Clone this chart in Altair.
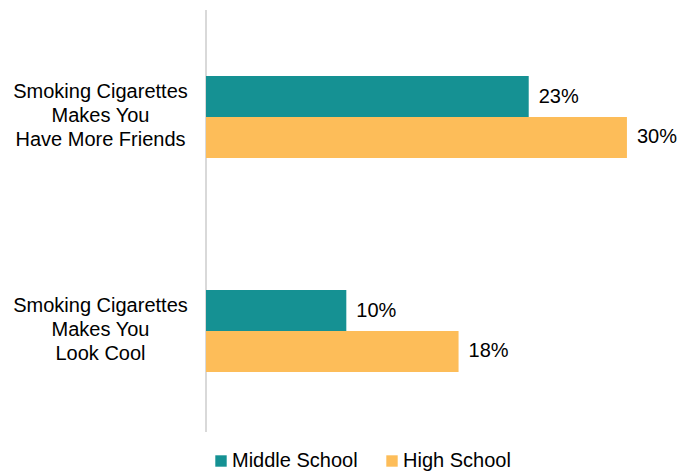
import altair as alt
import pandas as pd

categories = ["Smoking Cigarettes|Makes You|Have More Friends",
              "Smoking Cigarettes|Makes You|Look Cool"]
series = ["Middle School", "High School"]
middle_school = [23, 10]
high_school = [30, 18]
colors = ["#159193", "#FDBD59"]

rows = []
for i, c in enumerate(categories):
    rows.append({"cat": c, "series": series[0], "value": middle_school[i], "order": 0})
    rows.append({"cat": c, "series": series[1], "value": high_school[i], "order": 1})
df = pd.DataFrame(rows)
df["label"] = df["value"].astype(str) + "%"

FONT = "Liberation Sans"
FS = 20

y = alt.Y("cat:N", sort=categories, title=None,
          scale=alt.Scale(paddingInner=0.617, paddingOuter=0.2945),
          axis=alt.Axis(labelExpr="split(datum.label, '|')", labelAlign="center",
                        labelPadding=106, ticks=False, labelFontSize=FS,
                        labelLineHeight=24, labelColor="#000000", labelFont=FONT,
                        domain=False, labelBaseline="middle", labelOffset=-25))
yoff = alt.YOffset("series:N", sort=series, scale=alt.Scale(paddingInner=0, paddingOuter=0))
x = alt.X("value:Q", scale=alt.Scale(domain=[0, 32], nice=False), axis=None)

bars = alt.Chart(df).mark_bar().encode(
    y=y, yOffset=yoff, x=x,
    color=alt.Color("series:N", sort=series,
                    scale=alt.Scale(domain=series, range=colors),
                    legend=alt.Legend(title=None, orient="none", direction="horizontal",
                                      legendX=5, legendY=438, symbolType="square",
                                      symbolSize=130, symbolStrokeWidth=0,
                                      labelFontSize=FS, labelFont=FONT, labelColor="#000000",
                                      columnPadding=24, labelOffset=1, padding=0)),
)
text = alt.Chart(df).mark_text(align="left", baseline="middle", dx=10, fontSize=FS,
                               font=FONT, color="#000000").encode(
    y=alt.Y("cat:N", sort=categories), yOffset=yoff, x=x, text="label:N")

axis_line = alt.Chart(pd.DataFrame({"a": [0]})).mark_rule(color="#D9D9D9", strokeWidth=2).encode(
    x=alt.value(0), y=alt.value(-3), y2=alt.value(419))

chart = (axis_line + bars + text).properties(
    width=449, height=422,
    autosize=alt.AutoSizeParams(type="none"),
    padding={"left": 198, "top": 5, "right": 23, "bottom": 39},
).configure_view(stroke=None)

chart.save("out.html", embed_options={"renderer": "svg", "actions": False})
